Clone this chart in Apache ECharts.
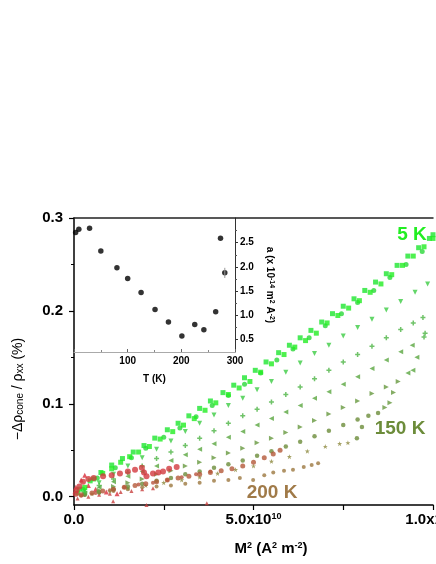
<!DOCTYPE html>
<html>
<head>
<meta charset="utf-8">
<script src="https://cdn.jsdelivr.net/npm/echarts@6/dist/echarts.min.js"></script>
<style>
  html, body { margin: 0; padding: 0; background: #fff; }
  #chart { width: 436px; height: 564px; }
</style>
</head>
<body>
<div id="chart"></div>
<script>
// main panel: x = M^2 in units of 1e10 A^2 m^-2, y = -drho_cone/rho_xx in %
const s5K = [[0.1,0.004],[0.3,0.010],[0.55,0.019],[0.8,0.025],[1.05,0.030],[1.3,0.037],[1.55,0.043],[1.8,0.048],[2.1,0.054],[2.4,0.062],[2.75,0.070],[3.05,0.077],[3.35,0.084],[3.65,0.093],[3.95,0.101],[4.3,0.110],[4.6,0.117],[4.9,0.124],[5.2,0.134],[5.5,0.143],[5.85,0.153],[6.15,0.161],[6.45,0.168],[6.75,0.176],[7.05,0.187],[7.35,0.195],[7.65,0.203],[7.95,0.211],[8.25,0.220],[8.55,0.229],[8.85,0.239],[9.15,0.249],[9.45,0.259],[9.75,0.269],[10.0,0.278]];
const s10K = [[0.15,0.008],[0.45,0.017],[0.75,0.026],[1.05,0.034],[1.35,0.041],[1.65,0.048],[1.95,0.055],[2.25,0.063],[2.6,0.072],[2.9,0.079],[3.2,0.087],[3.5,0.095],[3.8,0.103],[4.15,0.112],[4.45,0.120],[4.75,0.128],[5.05,0.136],[5.35,0.145],[5.7,0.155],[6.0,0.163],[6.3,0.171],[6.6,0.179],[6.9,0.188],[7.2,0.197],[7.5,0.205],[7.8,0.213],[8.1,0.222],[8.4,0.231],[8.7,0.240],[9.0,0.249],[9.3,0.259],[9.6,0.268],[9.9,0.278],[10.0,0.282]];
const s30K = [[0.25,0.008],[0.65,0.020],[1.15,0.031],[1.6,0.042],[2.0,0.052],[2.5,0.064],[2.95,0.074],[3.4,0.086],[3.85,0.098],[4.3,0.109],[4.75,0.121],[5.2,0.133],[5.65,0.147],[6.1,0.159],[6.55,0.171],[7.0,0.184],[7.45,0.197],[7.9,0.209],[8.35,0.222],[8.8,0.236],[9.25,0.250],[9.7,0.264]];
const s50K = [[0.3,0.006],[0.7,0.015],[1.1,0.024],[1.5,0.033],[1.9,0.042],[2.3,0.051],[2.7,0.060],[3.1,0.070],[3.5,0.079],[3.9,0.088],[4.3,0.098],[4.7,0.106],[5.1,0.115],[5.5,0.124],[5.9,0.134],[6.3,0.144],[6.7,0.154],[7.1,0.163],[7.5,0.173],[7.9,0.182],[8.3,0.191],[8.7,0.201],[9.1,0.210],[9.5,0.220],[9.85,0.229]];
const s80K = [[0.3,0.005],[0.7,0.012],[1.1,0.019],[1.5,0.026],[1.9,0.033],[2.3,0.041],[2.7,0.048],[3.1,0.055],[3.5,0.063],[3.9,0.071],[4.3,0.079],[4.7,0.087],[5.1,0.094],[5.5,0.102],[5.9,0.110],[6.3,0.118],[6.7,0.127],[7.1,0.136],[7.5,0.145],[7.9,0.153],[8.3,0.162],[8.7,0.171],[9.1,0.180],[9.45,0.187],[9.72,0.193],[9.78,0.176],[9.75,0.172]];
const s100K = [[0.3,0.004],[0.7,0.010],[1.1,0.016],[1.5,0.022],[1.9,0.027],[2.3,0.033],[2.7,0.039],[3.1,0.045],[3.5,0.051],[3.9,0.057],[4.3,0.064],[4.7,0.070],[5.1,0.077],[5.5,0.084],[5.9,0.091],[6.3,0.098],[6.7,0.106],[7.1,0.113],[7.5,0.121],[7.9,0.129],[8.3,0.138],[8.7,0.147],[9.1,0.156],[9.42,0.163],[9.55,0.150],[9.44,0.136],[9.3,0.133]];
const s125K = [[0.3,0.003],[0.7,0.007],[1.1,0.011],[1.5,0.015],[1.9,0.019],[2.3,0.024],[2.7,0.028],[3.1,0.033],[3.5,0.037],[3.9,0.042],[4.3,0.047],[4.7,0.052],[5.1,0.058],[5.5,0.063],[5.9,0.069],[6.3,0.075],[6.7,0.082],[7.1,0.089],[7.5,0.096],[7.9,0.103],[8.3,0.111],[8.7,0.118],[9.03,0.124],[8.9,0.112],[8.8,0.101],[8.66,0.096]];
const s150K = [[0.3,0.002],[0.7,0.005],[1.1,0.008],[1.5,0.011],[1.9,0.014],[2.3,0.017],[2.7,0.020],[3.1,0.024],[3.5,0.027],[3.9,0.031],[4.3,0.035],[4.7,0.039],[5.1,0.044],[5.5,0.049],[5.9,0.054],[6.3,0.059],[6.7,0.065],[7.1,0.071],[7.5,0.077],[7.9,0.083],[8.2,0.087],[8.47,0.090],[8.02,0.075],[7.88,0.063]];
const s175K = [[0.5,0.003],[1.0,0.006],[1.5,0.009],[2.0,0.012],[2.5,0.015],[3.0,0.018],[3.5,0.021],[4.0,0.025],[4.5,0.029],[5.0,0.033],[5.5,0.038],[6.0,0.043],[6.5,0.049],[7.0,0.054],[7.4,0.057],[7.63,0.058]];
const s200K = [[0.3,0.002],[0.7,0.004],[1.1,0.006],[1.5,0.008],[1.9,0.010],[2.3,0.011],[2.7,0.012],[3.1,0.014],[3.5,0.015],[3.9,0.017],[4.3,0.018],[4.62,0.020],[4.99,0.018],[5.3,0.023],[5.55,0.026],[5.85,0.028],[6.1,0.029],[6.4,0.032],[6.62,0.034],[6.8,0.036]];
const s225K = [[0.2,0.002],[0.5,0.004],[0.8,0.006],[1.1,0.008],[1.4,0.010],[1.7,0.012],[2.0,0.014],[2.3,0.016],[2.6,0.018],[2.9,0.020],[3.2,0.022],[3.5,0.024],[3.8,0.026],[4.1,0.028],[4.4,0.030],[4.7,0.033],[5.0,0.037],[5.3,0.042],[5.55,0.046],[5.74,0.050]];
const s240K = [[0.2,0.001],[0.6,0.004],[1.0,0.007],[1.4,0.010],[1.8,0.013],[2.2,0.015],[2.6,0.018],[3.0,0.021],[3.4,0.024],[3.8,0.027]];
const s260K = [[0.1,-0.002],[0.4,0.000],[0.7,0.002],[1.0,0.003],[1.3,0.005],[1.6,0.006],[1.9,0.008],[2.2,0.009],[1.09,-0.005],[2.02,-0.009],[3.7,-0.007]];
const s270K = [[0.05,0.003],[0.07,0.007],[0.15,0.011],[0.25,0.016],[0.4,0.019],[0.55,0.020],[0.81,0.022],[1.05,0.023],[1.28,0.025],[1.5,0.027],[1.7,0.029],[1.89,0.031],[1.95,0.026],[2.02,0.022],[2.2,0.025],[2.35,0.026],[2.48,0.027],[2.65,0.030],[2.86,0.032]];
const s280K = [[0.05,0.010],[0.2,0.018],[0.3,0.023],[0.4,0.012],[0.6,0.008],[0.9,0.005],[1.2,0.003]];

// inset: fit coefficient a vs temperature
const insetT = [3, 9, 29, 50, 80, 100, 125, 151, 176, 201, 225, 242, 264, 273, 281];
const insetA = [2.71, 2.78, 2.80, 2.33, 1.98, 1.76, 1.47, 1.12, 0.86, 0.57, 0.81, 0.70, 1.07, 2.59, 1.88];
const errT = 281;
const errLow = 1.77;
const errHigh = 1.98;

const yTicks = [0, 0.1, 0.2, 0.3];
const yMinorTicks = [0.05, 0.15, 0.25];
const insetTicks = [0.5, 1.0, 1.5, 2.0, 2.5];
const insetMinorTicks = [0.75, 1.25, 1.75, 2.25, 2.75];

const plusPath = 'path://M3.5,0h3v3.5h3.5v3h-3.5v3.5h-3v-3.5h-3.5v-3h3.5z';
const starPath = 'path://M5,0L6.2,3.6L10,3.6L7,5.9L8.1,9.5L5,7.3L1.9,9.5L3,5.9L0,3.6L3.8,3.6z';

const mainSeries = [
  { data: s280K, color: '#d9303c', symbol: 'triangle', rot: 0, size: 5 },
  { data: s260K, color: '#c8403e', symbol: 'triangle', rot: 0, size: 4 },
  { data: s240K, color: '#b9533e', symbol: 'circle', rot: 0, size: 4 },
  { data: s200K, color: '#9c7840', symbol: 'circle', rot: 0, size: 4 },
  { data: s175K, color: '#8d8a3e', symbol: starPath, rot: 0, size: 5 },
  { data: s150K, color: '#6c8c3a', symbol: 'circle', rot: 0, size: 4.5 },
  { data: s125K, color: '#66983e', symbol: 'triangle', rot: -90, size: 5 },
  { data: s100K, color: '#5aa640', symbol: 'triangle', rot: 90, size: 5 },
  { data: s80K, color: '#4cb444', symbol: plusPath, rot: 0, size: 5 },
  { data: s50K, color: '#3ccc44', symbol: 'triangle', rot: 180, size: 5 },
  { data: s30K, color: '#2ad838', symbol: 'circle', rot: 0, size: 5 },
  { data: s10K, color: '#1ee630', symbol: 'rect', rot: 0, size: 5 },
  { data: s5K, color: '#22ee22', symbol: 'rect', rot: 0, size: 5 },
  { data: s225K, color: '#b4593a', symbol: 'circle', rot: 0, size: 5 },
  { data: s270K, color: '#d23a3e', symbol: 'circle', rot: 0, size: 6 }
];

const font = 'Liberation Sans';
const chart = echarts.init(document.getElementById('chart'));

const series = mainSeries.map(s => ({
  type: 'scatter',
  xAxisIndex: 0,
  yAxisIndex: 0,
  data: s.data,
  symbol: s.symbol,
  symbolRotate: s.rot,
  symbolSize: s.size,
  itemStyle: { color: s.color },
  silent: true
}));

series.push({
  type: 'line',
  xAxisIndex: 2,
  yAxisIndex: 2,
  data: [[errT, errLow], [errT, errHigh]],
  symbol: 'none',
  lineStyle: { color: '#999', width: 1 },
  silent: true
});
series.push({
  type: 'scatter',
  xAxisIndex: 2,
  yAxisIndex: 2,
  data: insetT.map((t, i) => [t, insetA[i]]),
  symbol: 'circle',
  symbolSize: 5.5,
  itemStyle: { color: '#000' },
  silent: true
});

const option = {
  backgroundColor: '#fff',
  animation: false,
  grid: [
    { left: 74, right: 3, top: 218, bottom: 59, outerBoundsMode: 'none' },
    { left: 74, right: 201, top: 218, bottom: 212, outerBoundsMode: 'none' }
  ],
  xAxis: [
    {
      type: 'value', gridIndex: 0, min: 0, max: 10, interval: 5,
      axisLine: { onZero: false, lineStyle: { color: '#000', width: 1.5 } },
      axisTick: { length: 5, lineStyle: { color: '#000', width: 1.2 } },
      minorTick: { show: true, splitNumber: 2, length: 5, lineStyle: { color: '#000', width: 1.2 } },
      splitLine: { show: false },
      axisLabel: {
        margin: 7, color: '#000', fontFamily: font, fontWeight: 'bold', fontSize: 15,
        formatter: v => v === 0 ? '0.0' : (v === 5 ? '5.0x10{sup|10}' : '1.0x10{sup|11}'),
        rich: { sup: { fontSize: 9, fontWeight: 'bold', fontFamily: font, verticalAlign: 'top', color: '#000' } }
      }
    },
    {
      type: 'value', gridIndex: 0, min: 0, max: 10, position: 'top',
      axisLine: { onZero: false, lineStyle: { color: '#222', width: 1.5 } },
      axisTick: { show: false }, axisLabel: { show: false }, splitLine: { show: false }
    },
    {
      type: 'value', gridIndex: 1, min: 0, max: 300, interval: 100,
      axisLine: { onZero: false, lineStyle: { color: '#aaa', width: 1 } },
      axisTick: { inside: true, length: 3, lineStyle: { color: '#666' } },
      minorTick: { show: true, splitNumber: 2, length: 2, lineStyle: { color: '#888' } },
      splitLine: { show: false },
      axisLabel: {
        margin: 4, color: '#000', fontFamily: font, fontWeight: 'bold', fontSize: 10,
        formatter: v => v === 0 ? '' : String(v)
      },
      name: 'T (K)', nameLocation: 'middle', nameGap: 22,
      nameTextStyle: { color: '#000', fontFamily: font, fontWeight: 'bold', fontSize: 10 }
    }
  ],
  yAxis: [
    {
      type: 'value', gridIndex: 0, min: -0.009, max: 0.3, position: 'left',
      axisLine: { onZero: false, lineStyle: { color: '#000', width: 1.5 } },
      axisTick: { customValues: yTicks, length: 5, lineStyle: { color: '#000', width: 1.2 } },
      splitLine: { show: false },
      axisLabel: {
        customValues: yTicks, margin: 11, color: '#000', fontFamily: font, fontWeight: 'bold', fontSize: 15,
        formatter: v => v.toFixed(1)
      }
    },
    {
      type: 'value', gridIndex: 0, min: -0.009, max: 0.3, position: 'left',
      axisLine: { show: false, onZero: false },
      axisTick: { customValues: yMinorTicks, length: 3, lineStyle: { color: '#000', width: 1 } },
      axisLabel: { show: false }, splitLine: { show: false }
    },
    {
      type: 'value', gridIndex: 1, min: 0.24, max: 3.01, position: 'right',
      axisLine: { onZero: false, lineStyle: { color: '#333', width: 1 } },
      axisTick: { customValues: insetTicks, length: 3, lineStyle: { color: '#333' } },
      splitLine: { show: false },
      axisLabel: {
        customValues: insetTicks, margin: 5, color: '#000', fontFamily: font, fontWeight: 'bold', fontSize: 10,
        formatter: v => v.toFixed(1)
      },
      name: 'a (x 10{sup|-14} m{sup|2} A{sup|-2})', nameLocation: 'middle', nameRotate: -90, nameGap: 30,
      nameTextStyle: {
        color: '#000', fontFamily: font, fontWeight: 'bold', fontSize: 10,
        rich: { sup: { fontSize: 7, fontWeight: 'bold', fontFamily: font, verticalAlign: 'top', color: '#000' } }
      }
    },
    {
      type: 'value', gridIndex: 1, min: 0.24, max: 3.01, position: 'right',
      axisLine: { show: false, onZero: false },
      axisTick: { customValues: insetMinorTicks, length: 2, lineStyle: { color: '#555' } },
      axisLabel: { show: false }, splitLine: { show: false }
    }
  ],
  graphic: [
    {
      type: 'text', x: 18, y: 389, rotation: Math.PI / 2,
      style: {
        text: '−Δρ{sub|cone} / ρ{sub|xx} (%)',
        fill: '#000', font: '14px "Liberation Sans"', align: 'center', verticalAlign: 'middle',
        rich: { sub: { fontSize: 10, fontFamily: font, verticalAlign: 'bottom', fill: '#000' } }
      }
    },
    {
      type: 'text', x: 271, y: 549,
      style: {
        text: 'M{sup|2} (A{sup|2} m{sup|-2})',
        fill: '#000', font: 'bold 15px "Liberation Sans"', align: 'center', verticalAlign: 'middle',
        rich: { sup: { fontSize: 9, fontWeight: 'bold', fontFamily: font, verticalAlign: 'top', fill: '#000' } }
      }
    },
    {
      type: 'text', x: 412, y: 235,
      style: { text: '5 K', fill: '#22ee22', font: 'bold 19px "Liberation Sans"', align: 'center', verticalAlign: 'middle' }
    },
    {
      type: 'text', x: 400, y: 429,
      style: { text: '150 K', fill: '#6c8c3a', font: 'bold 19px "Liberation Sans"', align: 'center', verticalAlign: 'middle' }
    },
    {
      type: 'text', x: 272, y: 493,
      style: { text: '200 K', fill: '#a07a48', font: 'bold 19px "Liberation Sans"', align: 'center', verticalAlign: 'middle' }
    }
  ],
  series: series
};

chart.setOption(option);
</script>
</body>
</html>
